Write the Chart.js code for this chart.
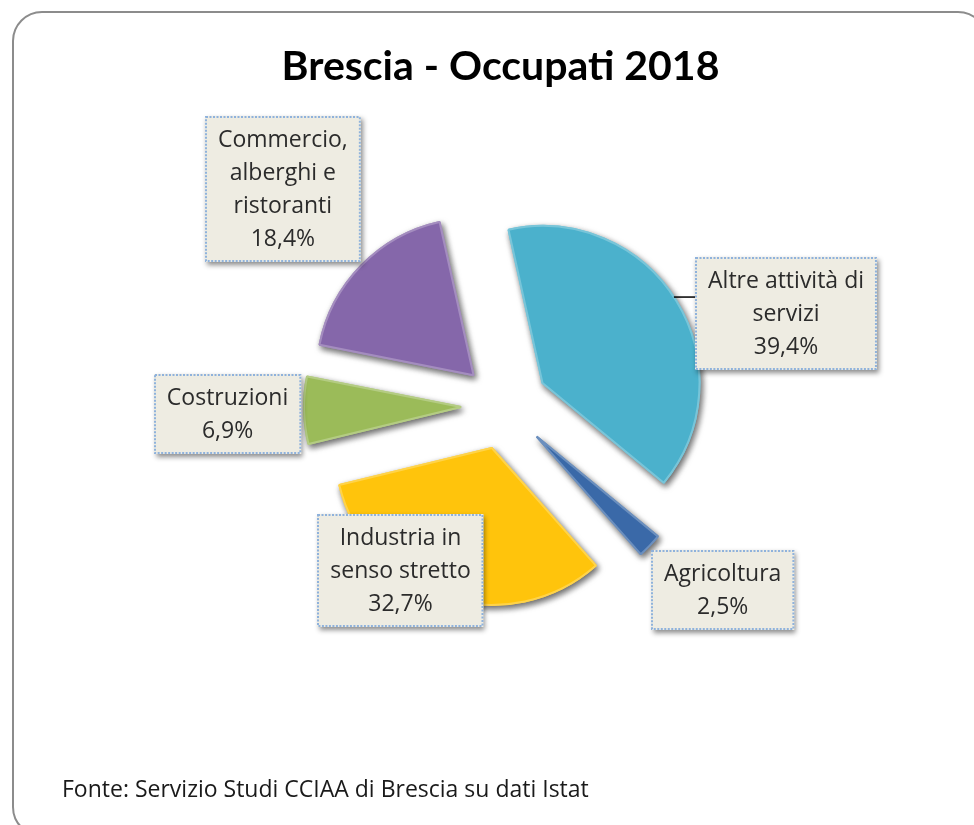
<!DOCTYPE html>
<html>
<head>
<meta charset="utf-8">
<script src="https://cdn.jsdelivr.net/npm/chart.js@4/dist/chart.umd.min.js"></script>
<style>
  html, body { margin: 0; padding: 0; background: #ffffff; }
  #wrap { position: relative; width: 974px; height: 825px; overflow: hidden; }
  #frame { position: absolute; left: 12px; top: 11px; width: 976px; height: 826px;
           box-sizing: border-box; border: 2px solid #8c8c8c; border-radius: 30px; pointer-events: none; }
  canvas { position: absolute; left: 0; top: 0; }
</style>
</head>
<body>
<div id="wrap">
  <canvas id="c" width="974" height="825"></canvas>
  <div id="frame"></div>
</div>
<script>
// ---- data ----
const chartTitle = 'Brescia - Occupati 2018';
const sourceNote = 'Fonte: Servizio Studi CCIAA di Brescia su dati Istat';
const categories = ['Altre attività di servizi', 'Agricoltura', 'Industria in senso stretto', 'Costruzioni', 'Commercio, alberghi e ristoranti'];
const labelLines = [['Altre attività di', 'servizi'], ['Agricoltura'], ['Industria in', 'senso stretto'], ['Costruzioni'], ['Commercio,', 'alberghi e', 'ristoranti']];
const shares = [39.4, 2.5, 32.7, 6.9, 18.4];
const sliceColors = ['#4BB1CC', '#3A69A8', '#FFC40C', '#9BBB59', '#8567AA'];

// ---- label layout (polar, relative to pie centre; degrees clockwise from top) ----
const labelLayout = [
  { angle: 71.7, dist: 296, leader: true },
  { angle: 130.2, dist: 285 },
  { angle: 212.4, dist: 195 },
  { angle: 268.3, dist: 277.6 },
  { angle: 314.3, dist: 310.4 }
];

function fmtPct(v) { return v.toFixed(1).replace('.', ',') + '%'; }

function shade(hex, f) {
  const n = parseInt(hex.slice(1), 16);
  let r = (n >> 16) & 255, g = (n >> 8) & 255, b = n & 255;
  if (f < 0) { r = Math.round(r * (1 + f)); g = Math.round(g * (1 + f)); b = Math.round(b * (1 + f)); }
  else { r = Math.round(r + (255 - r) * f); g = Math.round(g + (255 - g) * f); b = Math.round(b + (255 - b) * f); }
  return 'rgb(' + r + ',' + g + ',' + b + ')';
}

const explodePlugin = {
  id: 'explode',
  beforeDatasetDraw(chart, args, opts) {
    const ctx = chart.ctx;
    const d = opts.distance;
    args.meta.data.forEach((arc) => {
      const mid = (arc.startAngle + arc.endAngle) / 2;
      ctx.save();
      ctx.translate(Math.cos(mid) * d, Math.sin(mid) * d);
      ctx.shadowColor = 'rgba(0,0,0,0.6)';
      ctx.shadowBlur = 6; ctx.shadowOffsetX = 2; ctx.shadowOffsetY = 3;
      arc.draw(ctx);
      ctx.restore();
      ctx.save();
      ctx.translate(Math.cos(mid) * d, Math.sin(mid) * d);
      arc.draw(ctx);
      ctx.restore();
    });
    return false;
  }
};

const textPlugin = {
  id: 'texts',
  afterDraw(chart, args, opts) {
    const ctx = chart.ctx;
    const meta = chart.getDatasetMeta(0);
    const d = chart.options.plugins.explode.distance;
    ctx.save();
    // title
    ctx.fillStyle = '#000000';
    ctx.font = 'bold 41px Lato';
    ctx.textAlign = 'center';
    ctx.textBaseline = 'alphabetic';
    ctx.fillText(chartTitle, 500.5, 80);
    // source
    ctx.font = '23px "Open Sans"';
    ctx.textAlign = 'left';
    ctx.fillStyle = '#1a1a1a';
    ctx.fillText(sourceNote, 62, 797);
    // data labels
    const lineH = 33, padX = 13, padY = 7;
    ctx.font = '23px "Open Sans"';
    meta.data.forEach((arc, i) => {
      const lay = labelLayout[i];
      const lines = labelLines[i].concat([fmtPct(shares[i])]);
      const a = (lay.angle - 90) * Math.PI / 180;
      const cx = arc.x + Math.cos(a) * lay.dist;
      const cy = arc.y + Math.sin(a) * lay.dist;
      let w = 0;
      lines.forEach(t => { w = Math.max(w, ctx.measureText(t).width); });
      w += padX * 2;
      const h = lines.length * lineH + padY * 2;
      const x0 = Math.round(cx - w / 2), y0 = Math.round(cy - h / 2);
      if (lay.leader) {
        const mid = (arc.startAngle + arc.endAngle) / 2;
        const acx = arc.x + Math.cos(mid) * d, acy = arc.y + Math.sin(mid) * d;
        const ly = cy - 16;
        const dy = ly - acy;
        const ex = acx + Math.sqrt(Math.max(arc.outerRadius * arc.outerRadius - dy * dy, 0));
        ctx.strokeStyle = '#000';
        ctx.lineWidth = 1.5;
        ctx.beginPath(); ctx.moveTo(ex, ly); ctx.lineTo(x0, ly); ctx.stroke();
      }
      ctx.save();
      ctx.shadowColor = 'rgba(0,0,0,0.45)';
      ctx.shadowBlur = 5; ctx.shadowOffsetX = 2; ctx.shadowOffsetY = 3;
      ctx.fillStyle = '#EEECE2';
      ctx.fillRect(x0, y0, w, h);
      ctx.restore();
      ctx.save();
      ctx.strokeStyle = '#8FB2DC';
      ctx.lineWidth = 2;
      ctx.setLineDash([2, 1.5]);
      ctx.strokeRect(x0 + 1, y0 + 1, w - 2, h - 2);
      ctx.restore();
      ctx.fillStyle = '#2b2b2b';
      ctx.textAlign = 'center';
      ctx.textBaseline = 'middle';
      lines.forEach((t, k) => {
        ctx.fillText(t, cx, y0 + padY + lineH * k + lineH / 2 + 1);
      });
    });
    ctx.restore();
  }
};

new Chart(document.getElementById('c'), {
  type: 'pie',
  data: {
    labels: categories,
    datasets: [{
      data: shares,
      backgroundColor: sliceColors,
      borderColor: sliceColors.map(c => shade(c, 0.25)),
      borderWidth: 2
    }]
  },
  options: {
    responsive: false,
    animation: false,
    rotation: -12.5,
    radius: 157,
    layout: { padding: { left: 347, right: 311, top: 248, bottom: 261 } },
    plugins: {
      legend: { display: false },
      tooltip: { enabled: false },
      explode: { distance: 44 }
    }
  },
  plugins: [explodePlugin, textPlugin]
});
</script>
</body>
</html>
